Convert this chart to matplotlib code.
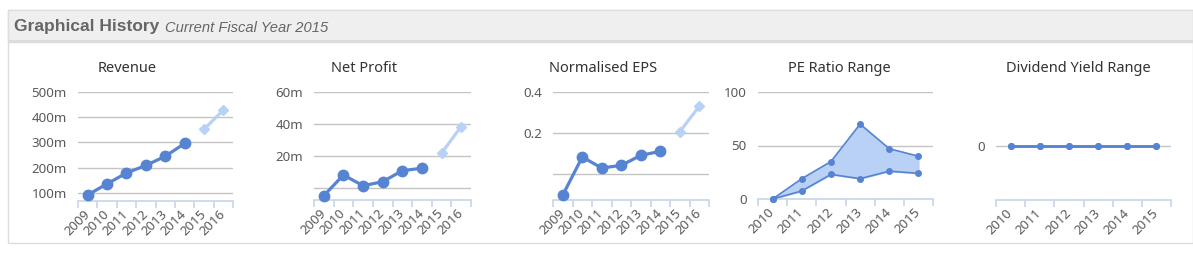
import matplotlib
matplotlib.use("Agg")
import matplotlib.pyplot as plt
import matplotlib.transforms as mtransforms
from matplotlib.patches import Rectangle

W, H = 1193, 256

# data
years_hist = ["2009", "2010", "2011", "2012", "2013", "2014", "2015", "2016"]
revenue = [92, 136, 179, 209, 245, 296]
revenue_fc = [352, 428]
net_profit = [-4.6, 8.3, 1.6, 4.1, 11.0, 12.5]
net_profit_fc = [21.9, 38.5]
eps = [-0.106, 0.081, 0.027, 0.040, 0.089, 0.109]
eps_fc = [0.205, 0.330]

years_range = ["2010", "2011", "2012", "2013", "2014", "2015"]
pe_high = [0, 19, 35, 70, 47, 40]
pe_low = [0, 7.5, 23, 19, 26, 24]
dy_high = [0, 0, 0, 0, 0, 0]
dy_low = [0, 0, 0, 0, 0, 0]

LINE = "#5784d2"
LIGHT = "#b9d1f5"
FILL = "#b9d1f5"
GRID = "#c4c4c4"
AXIS = "#c6d6e8"
TXT = "#595959"
FONT = ["Noto Sans", "DejaVu Sans"]

fig = plt.figure(figsize=(W / 100, H / 100), dpi=100)


def px_axes(x0, y0, x1, y1):
    return fig.add_axes([x0 / W, 1 - y1 / H, (x1 - x0) / W, (y1 - y0) / H])


# panel + header (kept behind the axes)
for r in [
    Rectangle((8 / W, 1 - 243 / H), (W - 8) / W, (243 - 10) / H,
              fc="white", ec="#dcdcdc", lw=1),
    Rectangle((8 / W, 1 - 42 / H), (W - 8) / W, 32 / H, fc="#efefef", ec="#dedede", lw=1),
    Rectangle((8 / W, 1 - 43 / H), (W - 8) / W, 3 / H, fc="#dcdcdc", ec="none"),
]:
    r.set_transform(fig.transFigure)
    r.set_zorder(-5)
    fig.patches.append(r)

fig.text(14 / W, 1 - 27 / H, "Graphical History", fontsize=12.5, fontweight="bold",
         color="#666666", family="Liberation Sans", va="center")
fig.text(165 / W, 1 - 28 / H, "Current Fiscal Year 2015", fontsize=10.6, style="italic",
         color="#666666", family="Liberation Sans", va="center")

shift = mtransforms.ScaledTranslation(5 / 100, 0, fig.dpi_scale_trans)


def style(ax, cats, yticks, ylabels, ylim, title, title_x):
    n = len(cats)
    ax.patch.set_alpha(0)
    ax.set_xlim(-0.5, n - 0.5)
    ax.set_ylim(*ylim)
    for s in ["top", "right", "left"]:
        ax.spines[s].set_visible(False)
    ax.spines["bottom"].set_color(AXIS)
    ax.spines["bottom"].set_linewidth(1.2)
    for v in yticks:
        ax.axhline(v, color=GRID, lw=1, zorder=0)
    ax.set_yticks(yticks)
    ax.set_yticklabels(ylabels, fontsize=9.6, color=TXT, family=FONT)
    ax.tick_params(axis="y", length=0, pad=8)
    ax.set_xticks(range(n))
    ax.set_xticklabels(cats, fontsize=9.5, color=TXT, family=FONT, rotation=45,
                       ha="right", va="center", rotation_mode="anchor")
    for lab in ax.get_xticklabels():
        lab.set_transform(lab.get_transform() + shift)
    ax.tick_params(axis="x", which="major", length=0, pad=8)
    ax.set_xticks([i - 0.5 for i in range(n + 1)], minor=True)
    ax.tick_params(axis="x", which="minor", length=5, color=AXIS, width=1.2)
    fig.text(title_x / W, 1 - 69 / H, title, fontsize=10.5, color="#333333",
             family=FONT, ha="center", va="center")


def history(ax, vals, fc):
    n = len(vals)
    ax.plot(range(n), vals, color=LINE, lw=2.3, marker="o", ms=7.5, zorder=3, clip_on=False)
    ax.plot(range(n, n + len(fc)), fc, color=LIGHT, lw=2.3, marker="D", ms=5.5,
            zorder=3, clip_on=False)


ax1 = px_axes(78, 92, 233, 201)
style(ax1, years_hist, [100, 200, 300, 400, 500], ["100m", "200m", "300m", "400m", "500m"],
      (68, 500), "Revenue", 127.5)
history(ax1, revenue, revenue_fc)

ax2 = px_axes(314, 92, 471, 200)
style(ax2, years_hist, [0, 20, 40, 60], ["", "20m", "40m", "60m"], (-7.3, 60),
      "Net Profit", 364.5)
history(ax2, net_profit, net_profit_fc)

ax3 = px_axes(553, 92, 709, 200)
style(ax3, years_hist, [0, 0.2, 0.4], ["", "0.2", "0.4"], (-0.13, 0.4),
      "Normalised EPS", 603)
history(ax3, eps, eps_fc)

ax4 = px_axes(758, 92, 933, 199)
style(ax4, years_range, [0, 50, 100], ["0", "50", "100"], (0, 100), "PE Ratio Range", 839.5)
x4 = range(len(years_range))
ax4.fill_between(x4, pe_low, pe_high, color=FILL, zorder=1)
ax4.plot(x4, pe_high, color=LINE, lw=1.2, marker="o", ms=4, zorder=3, clip_on=False)
ax4.plot(x4, pe_low, color=LINE, lw=1.2, marker="o", ms=4, zorder=3, clip_on=False)

ax5 = px_axes(996, 92, 1171, 200)
style(ax5, years_range, [0], ["0"], (-1, 1), "Dividend Yield Range", 1078)
x5 = range(len(years_range))
ax5.fill_between(x5, dy_low, dy_high, color=FILL, zorder=1)
ax5.plot(x5, dy_high, color=LINE, lw=1.8, marker="o", ms=4, zorder=3)
ax5.plot(x5, dy_low, color=LINE, lw=1.8, marker="o", ms=4, zorder=3)

fig.savefig("out.png", dpi=100)
